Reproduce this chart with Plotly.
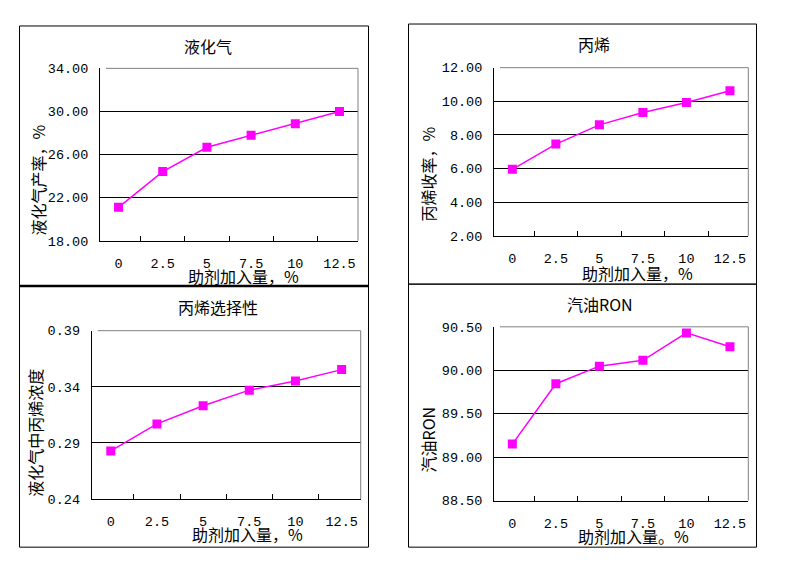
import plotly.graph_objects as go

W, H = 797, 581

# ---- data ----
categories = ["0", "2.5", "5", "7.5", "10", "12.5"]
lpg_yield = [21.10, 24.42, 26.68, 27.79, 28.85, 30.00]
propylene_yield = [5.96, 7.46, 8.60, 9.34, 9.93, 10.63]
propylene_conc = [0.2828, 0.3069, 0.3231, 0.3370, 0.3451, 0.3553]
gasoline_ron = [89.15, 89.845, 90.047, 90.114, 90.43, 90.27]

titles = ["液化气", "丙烯", "丙烯选择性", "汽油RON"]
y_titles = ["液化气产率，%", "丙烯收率，%", "液化气中丙烯浓度", "汽油RON"]
x_titles = ["助剂加入量，%", "助剂加入量，%", "助剂加入量，%", "助剂加入量。%"]
y_ticks = [
    [18, 22, 26, 30, 34],
    [2, 4, 6, 8, 10, 12],
    [0.24, 0.29, 0.34, 0.39],
    [88.5, 89.0, 89.5, 90.0, 90.5],
]
series = [lpg_yield, propylene_yield, propylene_conc, gasoline_ron]

# ---- layout in pixels ----
plot_boxes = [  # x0, x1, y0(top), y1(bottom)
    (100, 358, 64, 241),
    (494, 748.3, 63.3, 236),
    (91.7, 360.7, 333.3, 506),
    (494, 748.3, 329.3, 507.7),
]
panel_boxes = [
    (19.5, 368.5, 20.5, 287.5),
    (408.5, 756.5, 18.5, 285.5),
    (19.5, 368.5, 287.5, 555.5),
    (408.5, 756.5, 285.5, 555.5),
]
title_pos = [(208, 41), (594, 39), (218, 309), (600, 306)]
xtitle_pos = [(243, 277), (637, 274), (247, 542), (633, 544)]
ytitle_pos = [(38, 179), (428, 173), (35, 438), (428, 445)]


def px(x):
    return x / W


def py(y):
    return 1 - y / H


CJK = "Noto Sans CJK SC"
NUM = "Liberation Mono"
MAG = "#FF00FF"

fig = go.Figure()
shapes = []
annotations = []

for i in range(4):
    n = "" if i == 0 else str(i + 1)
    x0, x1, yt, yb = plot_boxes[i]
    fig.add_trace(go.Scatter(
        x=categories, y=series[i], mode="lines+markers",
        line=dict(color=MAG, width=1.5),
        marker=dict(symbol="square", size=9, color=MAG),
        xaxis="x" + n, yaxis="y" + n, showlegend=False,
    ))
    yt_vals = y_ticks[i]
    fig.layout["xaxis" + n] = dict(
        domain=[px(x0), px(x1)], anchor="y" + n, type="category",
        categoryorder="array", categoryarray=categories,
        tickson="boundaries", ticks="inside", ticklen=5, tickcolor="black",
        showline=True, linecolor="black", linewidth=1, showgrid=False,
        tickfont=dict(family=NUM, size=13.5, color="black"),
        ticklabelstandoff=10, zeroline=False, fixedrange=True,
    )
    fig.layout["yaxis" + n] = dict(
        domain=[py(yb), py(yt)], anchor="x" + n,
        range=[yt_vals[0], yt_vals[-1]], tickvals=yt_vals,
        tickformat=".2f", ticks="inside", ticklen=6, tickcolor="black",
        showline=True, linecolor="black", linewidth=1,
        showgrid=True, gridcolor="black", gridwidth=1,
        tickfont=dict(family=NUM, size=13.5, color="black"),
        ticklabelstandoff=8, zeroline=False, fixedrange=True,
    )
    # gray top/right plot-area edges
    shapes.append(dict(type="line", xref="paper", yref="paper",
                       x0=px(x0 + 6), x1=px(x1), y0=py(yt), y1=py(yt),
                       line=dict(color="#808080", width=1)))
    shapes.append(dict(type="line", xref="paper", yref="paper",
                       x0=px(x1), x1=px(x1), y0=py(yt), y1=py(yb),
                       line=dict(color="#808080", width=1)))
    # panel border
    bx0, bx1, by0, by1 = panel_boxes[i]
    shapes.append(dict(type="rect", xref="paper", yref="paper",
                       x0=px(bx0), x1=px(bx1), y0=py(by1), y1=py(by0),
                       line=dict(color="black", width=1)))
    annotations.append(dict(text=titles[i], x=px(title_pos[i][0]), y=py(title_pos[i][1]),
                            xref="paper", yref="paper", showarrow=False,
                            xanchor="center", yanchor="middle",
                            font=dict(family=CJK, size=16, color="black")))
    annotations.append(dict(text=x_titles[i], x=px(xtitle_pos[i][0]), y=py(xtitle_pos[i][1]),
                            xref="paper", yref="paper", showarrow=False,
                            xanchor="center", yanchor="middle",
                            font=dict(family=CJK, size=16, color="black")))
    annotations.append(dict(text=y_titles[i], x=px(ytitle_pos[i][0]), y=py(ytitle_pos[i][1]),
                            xref="paper", yref="paper", showarrow=False, textangle=-90,
                            xanchor="center", yanchor="middle",
                            font=dict(family=CJK, size=16, color="black")))

# thick separator between left panels
shapes.append(dict(type="line", xref="paper", yref="paper",
                   x0=px(19.5), x1=px(368.5), y0=py(287.5), y1=py(287.5),
                   line=dict(color="black", width=2.5)))

fig.update_layout(
    width=W, height=H, margin=dict(l=0, r=0, t=0, b=0),
    paper_bgcolor="white", plot_bgcolor="white",
    shapes=shapes, annotations=annotations, showlegend=False,
)

fig.write_html("out.html", config={"displayModeBar": False})
